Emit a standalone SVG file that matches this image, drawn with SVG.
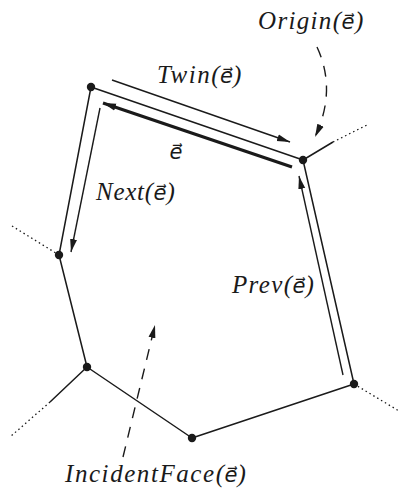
<svg xmlns="http://www.w3.org/2000/svg" width="399" height="499" viewBox="0 0 399 499">
<defs>
<style>
.edge{stroke:#1a1a1a;stroke-width:1.5;fill:none}
.dot{stroke:#1a1a1a;stroke-width:1.3;fill:none;stroke-dasharray:1.5 3}
.he{stroke:#1a1a1a;stroke-width:1.4;fill:none}
.dash{stroke:#1a1a1a;stroke-width:1.4;fill:none;stroke-dasharray:11 9}
.v{fill:#1a1a1a}
.lbl{font-family:"Liberation Serif","DejaVu Serif",serif;font-style:italic;font-size:25px;fill:#1a1a1a}
.ev{font-family:"DejaVu Sans",sans-serif;font-size:21px;font-weight:300}
</style>
<marker id="ah" markerUnits="userSpaceOnUse" markerWidth="14" markerHeight="8" refX="13" refY="4" orient="auto">
<path d="M0,0.5 L13,4 L0,7.5 Z" fill="#1a1a1a"/>
</marker>
</defs>
<rect width="399" height="499" fill="#fff"/>
<g id="connectors">
<path class="edge" d="M91,87 L303,160 M91,87 L59,255 M59,255 L87,367 M87,367 L192,438 M192,438 L354,384 M354,384 L303,160"/>
<path class="edge" d="M303,160 L333,142 M87,367 L50,402"/>
<path class="dot" d="M333,142 L369,124 M12,226 L59,255 M50,402 L10,437 M354,384 L399,411"/>
<path class="he" d="M112,80 L290,142" marker-end="url(#ah)"/>
<path d="M292,167 L103,103" stroke="#1a1a1a" stroke-width="3.2" fill="none" marker-end="url(#ah)"/>
<path class="he" d="M100,108 L71,252" marker-end="url(#ah)"/>
<path class="he" d="M343,375 L299,176" marker-end="url(#ah)"/>
<path class="dash" d="M317,47 Q337,90 315,137" marker-end="url(#ah)"/>
<path class="dash" d="M123,457 L155,325" stroke-dasharray="12 10" marker-end="url(#ah)"/>
</g>
<g id="v1"><circle class="v" cx="91" cy="87" r="4.2"/></g>
<g id="v2"><circle class="v" cx="303" cy="160" r="4.2"/></g>
<g id="v3"><circle class="v" cx="59" cy="255" r="4.2"/></g>
<g id="v4"><circle class="v" cx="87" cy="367" r="4.2"/></g>
<g id="v5"><circle class="v" cx="192" cy="438" r="4.2"/></g>
<g id="v6"><circle class="v" cx="354" cy="384" r="4.2"/></g>
<g id="labels">
<text class="lbl"><tspan x="258" y="29" textLength="83" lengthAdjust="spacing">Origin(</tspan><tspan class="ev" x="341.5" y="29">e⃗</tspan><tspan x="355" y="29">)</tspan></text>
<text class="lbl"><tspan x="157" y="83" textLength="62.5" lengthAdjust="spacing">Twin(</tspan><tspan class="ev" x="220" y="83">e⃗</tspan><tspan x="233" y="83">)</tspan></text>
<text class="lbl"><tspan class="ev" x="169.5" y="159">e⃗</tspan></text>
<text class="lbl"><tspan x="96" y="200" textLength="57" lengthAdjust="spacing">Next(</tspan><tspan class="ev" x="153.5" y="200">e⃗</tspan><tspan x="166.5" y="200">)</tspan></text>
<text class="lbl"><tspan x="232" y="293" textLength="60" lengthAdjust="spacing">Prev(</tspan><tspan class="ev" x="292.5" y="293">e⃗</tspan><tspan x="305.5" y="293">)</tspan></text>
<text class="lbl"><tspan x="65" y="482" textLength="159" lengthAdjust="spacing">IncidentFace(</tspan><tspan class="ev" x="224.5" y="482">e⃗</tspan><tspan x="237.5" y="482">)</tspan></text>
</g>
</svg>
